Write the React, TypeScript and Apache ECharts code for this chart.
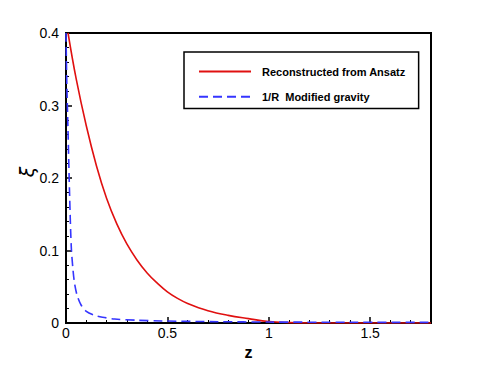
import React, { useEffect, useRef } from "react";
import * as echarts from "echarts";

const xTickLabels = ["0", "0.5", "1", "1.5"];
const yTickLabels = ["0", "0.1", "0.2", "0.3", "0.4"];
const yAxisTitle = "ξ";

const seriesNames = ["Reconstructed from Ansatz", "1/R  Modified gravity"];

const ansatzZ = [0.01, 0.05, 0.1, 0.15, 0.2, 0.25, 0.3, 0.35, 0.4, 0.45, 0.5, 0.55, 0.6, 0.7, 0.8, 0.9, 1.0, 1.1, 1.2, 1.8];
const ansatzXi = [0.4, 0.337, 0.272, 0.217, 0.172, 0.137, 0.109, 0.087, 0.069, 0.055, 0.043, 0.034, 0.027, 0.017, 0.0105, 0.006, 0.002, 0.0005, 0, 0];

const fRZ = [0, 0.004, 0.01, 0.018, 0.026, 0.034, 0.042, 0.055, 0.075, 0.1, 0.141, 0.18, 0.24, 0.35, 0.47, 0.75, 1.0, 1.4, 1.8];
const fRXi = [0.4, 0.33, 0.265, 0.174, 0.105, 0.075, 0.055, 0.038, 0.0245, 0.016, 0.0107, 0.008, 0.0055, 0.0038, 0.0028, 0.0018, 0.0013, 0.001, 0.0008];

export default function App() {
  const ref = useRef<HTMLDivElement>(null);
  useEffect(() => {
    if (!ref.current) return;
    const chart = echarts.init(ref.current, undefined, { renderer: "svg" });
    const font = "'Liberation Sans', Arial, Helvetica, sans-serif";
    chart.setOption({
      animation: false,
      textStyle: { fontFamily: font },
      grid: {
        left: 66,
        right: 60,
        top: 33,
        bottom: 56,
        show: true,
        borderColor: "#000",
        borderWidth: 2,
        backgroundColor: "transparent",
      },
      graphic: [
        {
          type: "text",
          x: 27,
          y: 172,
          rotation: Math.PI / 2,
          style: {
            text: yAxisTitle,
            fontSize: 19,
            fontStyle: "italic",
            fontFamily: "'DejaVu Sans', sans-serif",
            fill: "#000",
            align: "center",
            verticalAlign: "middle",
          },
        },
      ],
      legend: {
        orient: "vertical",
        left: 184,
        top: 52,
        padding: [14, 13, 6, 14],
        itemGap: 14,
        itemWidth: 52,
        itemHeight: 14,
        borderColor: "#000",
        borderWidth: 1.5,
        itemStyle: { opacity: 0 },
        data: seriesNames,
        textStyle: { fontSize: 11, fontWeight: "bold", color: "#000", fontFamily: font, padding: [0, 0, 0, 6] },
      },
      xAxis: {
        type: "value",
        min: 0,
        max: 1.8,
        interval: 0.5,
        name: "z",
        nameLocation: "middle",
        nameGap: 20,
        nameTextStyle: { fontSize: 16, fontWeight: "bold", color: "#000", fontFamily: font },
        axisLine: { lineStyle: { color: "#000", width: 2 } },
        axisTick: { inside: true, length: 6, lineStyle: { color: "#000", width: 1.5 } },
        minorTick: { show: true, splitNumber: 5, length: 3, lineStyle: { color: "#000", width: 1 } },
        splitLine: { show: false },
        axisLabel: {
          fontSize: 14,
          color: "#000",
          margin: 3,
          showMaxLabel: false,
          formatter: (v: number) => {
            const i = Math.round(v / 0.5);
            return Math.abs(v - i * 0.5) < 1e-9 && i < xTickLabels.length ? xTickLabels[i] : "";
          },
        },
      },
      yAxis: {
        type: "value",
        min: 0,
        max: 0.4,
        interval: 0.1,
        axisLine: { lineStyle: { color: "#000", width: 2 } },
        axisTick: { inside: true, length: 6, lineStyle: { color: "#000", width: 1.5 } },
        minorTick: { show: true, splitNumber: 5, length: 3, lineStyle: { color: "#000", width: 1 } },
        splitLine: { show: false },
        axisLabel: {
          fontSize: 14,
          color: "#000",
          margin: 7,
          formatter: (v: number) => {
            const i = Math.round(v / 0.1);
            return yTickLabels[i] ?? "";
          },
        },
      },
      series: [
        {
          name: seriesNames[0],
          type: "line",
          data: ansatzZ.map((z, i) => [z, ansatzXi[i]]),
          showSymbol: false,
          symbol: "none",
          smooth: 0.4,
          lineStyle: { color: "#e01010", width: 1.6, type: "solid" },
          itemStyle: { color: "#e01010" },
          z: 2,
        },
        {
          name: seriesNames[1],
          type: "line",
          data: fRZ.map((z, i) => [z, fRXi[i]]),
          showSymbol: false,
          symbol: "none",
          smooth: 0.3,
          lineStyle: { color: "#3535ff", width: 1.6, type: [9, 5] },
          itemStyle: { color: "#3535ff" },
          z: 3,
        },
      ],
    });
    return () => chart.dispose();
  }, []);
  return <div ref={ref} style={{ position: "absolute", left: 0, top: 0, width: 491, height: 379 }} />;
}
